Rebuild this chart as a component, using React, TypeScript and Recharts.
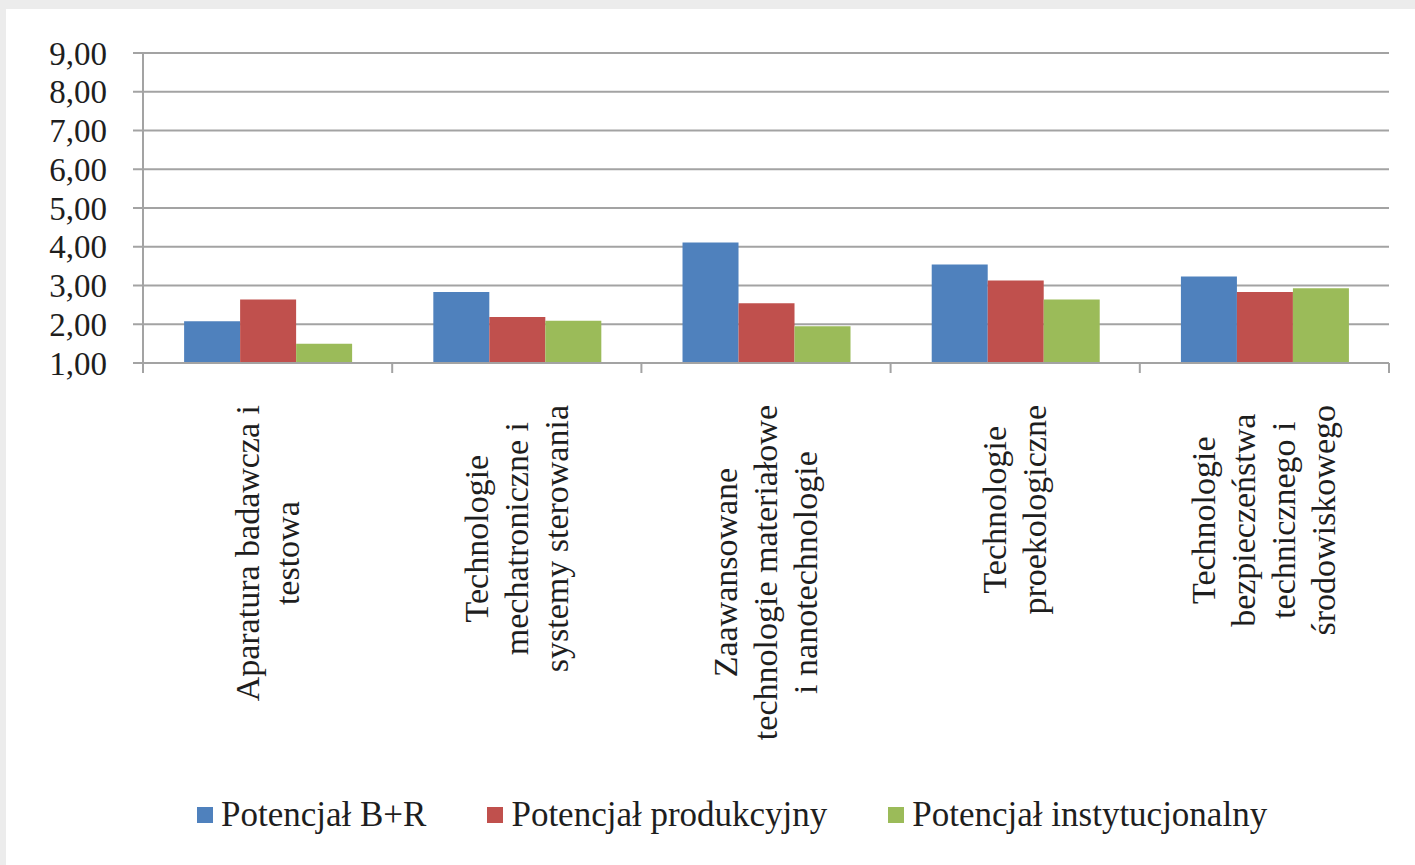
import React from 'react';
import { BarChart, Bar, XAxis, YAxis, CartesianGrid, Legend } from 'recharts';

// category names, line breaks where the axis wraps them
const categories = [
  'Aparatura badawcza i\ntestowa',
  'Technologie\nmechatroniczne i\nsystemy sterowania',
  'Zaawansowane\ntechnologie materiałowe\ni nanotechnologie',
  'Technologie\nproekologiczne',
  'Technologie\nbezpieczeństwa\ntechnicznego i\nśrodowiskowego',
];

const seriesNames = ['Potencjał B+R', 'Potencjał produkcyjny', 'Potencjał instytucjonalny'];
const seriesColors = ['#4F81BD', '#C0504D', '#9BBB59'];

const potencjalBR = [2.08, 2.83, 4.11, 3.54, 3.23];
const potencjalProdukcyjny = [2.64, 2.19, 2.54, 3.13, 2.83];
const potencjalInstytucjonalny = [1.5, 2.09, 1.95, 2.64, 2.93];

const yTicks = [1, 2, 3, 4, 5, 6, 7, 8, 9];

const data = categories.map((name, i) => ({
  name,
  br: potencjalBR[i],
  prod: potencjalProdukcyjny[i],
  inst: potencjalInstytucjonalny[i],
}));
const keys = ['br', 'prod', 'inst'];

const W = 1415;
const H = 865;
const PLOT_LEFT = 143;
const PLOT_RIGHT = 1389;
const PLOT_TOP = 53;
const PLOT_BOTTOM = 363;
const BAND = (PLOT_RIGHT - PLOT_LEFT) / categories.length;

const FONT = '"Liberation Serif", "Times New Roman", serif';
const LABEL_SIZE = 34;
const LINE_H = 40;
const AXIS_COLOR = '#a3a3a3';
const TEXT_COLOR = '#1e1e1e';

let ctx: CanvasRenderingContext2D | null = null;
const measure = (s: string) => {
  if (!ctx) ctx = document.createElement('canvas').getContext('2d');
  if (!ctx) return s.length * LABEL_SIZE * 0.45;
  ctx.font = `${LABEL_SIZE}px ${FONT}`;
  return ctx.measureText(s).width;
};

const CategoryTick = (props: any) => {
  const { x, payload, index } = props;
  const lines: string[] = String(payload.value).split('\n');
  const longest = Math.max(...lines.map(measure));
  const top = PLOT_BOTTOM + 42;
  const cy = top + longest / 2;
  const n = lines.length;
  const left = x - BAND / 2;
  const right = x + BAND / 2;
  return (
    <g>
      <line x1={left} y1={PLOT_BOTTOM} x2={left} y2={PLOT_BOTTOM + 10} stroke={AXIS_COLOR} strokeWidth={2} />
      {index === categories.length - 1 && (
        <line x1={right} y1={PLOT_BOTTOM} x2={right} y2={PLOT_BOTTOM + 10} stroke={AXIS_COLOR} strokeWidth={2} />
      )}
      <text
        transform={`translate(${x},${cy}) rotate(-90)`}
        textAnchor="middle"
        fontFamily={FONT}
        fontSize={LABEL_SIZE}
        fill={TEXT_COLOR}
      >
        {lines.map((line, i) => (
          <tspan key={i} x={0} y={(i - (n - 1) / 2) * LINE_H + 11}>
            {line}
          </tspan>
        ))}
      </text>
    </g>
  );
};

const LegendContent = () => (
  <div style={{ display: 'flex', alignItems: 'center', height: 40, fontFamily: FONT, fontSize: 35, color: TEXT_COLOR }}>
    {seriesNames.map((name, i) => (
      <div key={name} style={{ display: 'flex', alignItems: 'center', marginRight: 61 }}>
        <span style={{ width: 16, height: 16, background: seriesColors[i], marginRight: 8, display: 'inline-block' }} />
        <span style={{ whiteSpace: 'nowrap' }}>{name}</span>
      </div>
    ))}
  </div>
);

export default function App() {
  return (
    <div style={{ position: 'absolute', left: 0, top: 0, width: W, height: H, background: '#ececec' }}>
      <div style={{ position: 'absolute', left: 6, top: 9, right: 0, bottom: 0, background: '#ffffff' }} />
      <div style={{ position: 'absolute', left: 0, top: 0 }}>
        <BarChart
          width={W}
          height={H}
          data={data}
          margin={{ top: PLOT_TOP, right: W - PLOT_RIGHT, left: 0, bottom: 30 }}
          barCategoryGap="16.5%"
          barGap={0}
        >
          <CartesianGrid vertical={false} stroke={AXIS_COLOR} strokeWidth={2} />
          <XAxis
            dataKey="name"
            interval={0}
            height={H - 30 - 40 - PLOT_BOTTOM}
            tickLine={false}
            axisLine={{ stroke: AXIS_COLOR, strokeWidth: 2 }}
            tick={<CategoryTick />}
          />
          <YAxis
            width={PLOT_LEFT}
            domain={[1, 9]}
            ticks={yTicks}
            interval={0}
            allowDataOverflow
            tickSize={10}
            tickMargin={26}
            axisLine={{ stroke: AXIS_COLOR, strokeWidth: 2 }}
            tickLine={{ stroke: AXIS_COLOR, strokeWidth: 2 }}
            tick={{ fontFamily: FONT, fontSize: 33, fill: TEXT_COLOR }}
            tickFormatter={(v: number) => v.toFixed(2).replace('.', ',')}
          />
          <Legend
            verticalAlign="bottom"
            content={<LegendContent />}
            wrapperStyle={{ left: 197, bottom: 30, width: 1150, height: 40 }}
          />
          {keys.map((k, i) => (
            <Bar key={k} dataKey={k} name={seriesNames[i]} fill={seriesColors[i]} isAnimationActive={false} />
          ))}
        </BarChart>
      </div>
    </div>
  );
}
